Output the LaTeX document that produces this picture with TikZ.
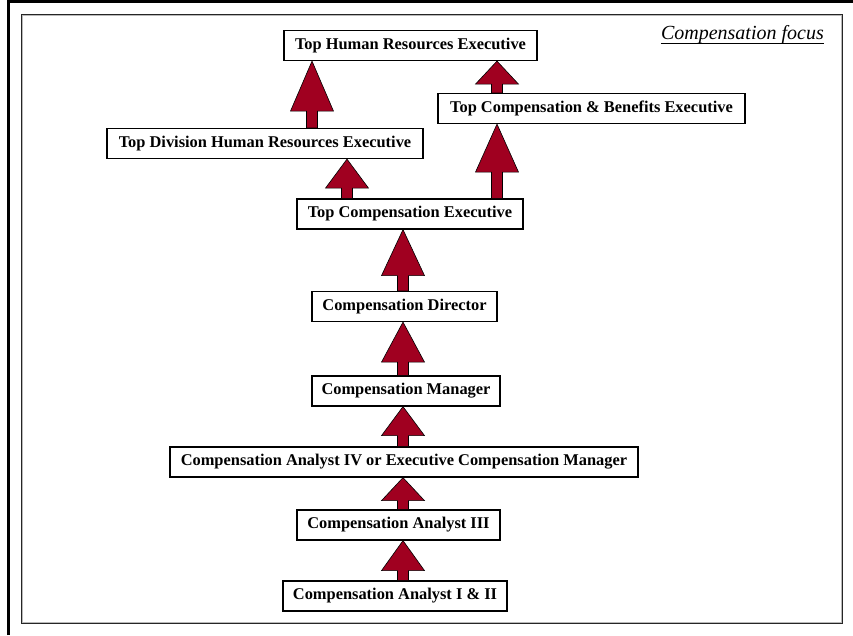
\documentclass[tikz,border=0pt]{standalone}
\usepackage{fontspec}
\setmainfont{Liberation Serif}
\usetikzlibrary{calc}
\definecolor{arrowred}{RGB}{160,0,32}
\newcommand{\blockup}[4]{%
  \path[blockarrow] let \p1=(#2.north), \p2=(#3.south) in
    (#1pt-5.5pt,\y1) -- (#1pt-5.5pt,\y2-#4pt) -- (#1pt-21.5pt,\y2-#4pt) -- (#1pt,\y2)
    -- (#1pt+21.5pt,\y2-#4pt) -- (#1pt+5.5pt,\y2-#4pt) -- (#1pt+5.5pt,\y1) -- cycle;}
\begin{document}
\begin{tikzpicture}[x=1pt,y=-1pt,
  box/.style={draw=black, line width=1.2pt, fill=white,
    font=\fontsize{16.4}{18}\selectfont\bfseries,
    inner xsep=3pt, inner ysep=0pt, minimum height=30pt},
  blockarrow/.style={fill=arrowred, draw=black, line width=0.6pt}]
\useasboundingbox (0,0) rectangle (853,635);
% frames
\draw[line width=3pt] (8.5,635) -- (8.5,1.5) -- (853,1.5);
\draw[line width=1pt, black!85] (21.5,14.5) rectangle (842.5,623.5);
\draw[line width=0.8pt, gray!55] (22.8,15.8) rectangle (841.2,622.2);
% title
\node[anchor=base east, inner sep=0pt, font=\fontsize{20}{22}\selectfont\itshape] (focus) at (824,39.5) {Compensation focus};
\draw[line width=0.9pt] ([yshift=-4pt]focus.base west) -- ([yshift=-4pt]focus.base east);
% nodes
\node[box, minimum width=253pt] (n1) at (410.5,45.5) {Top Human Resources Executive};
\node[box, minimum width=316pt] (n2) at (265,143.5) {Top Division Human Resources Executive};
\node[box, minimum width=307pt] (n3) at (591.5,108.5) {Top Compensation \& Benefits Executive};
\node[box, minimum width=226pt] (n4) at (410,214) {Top Compensation Executive};
\node[box, minimum width=185pt] (n5) at (404.5,306.5) {Compensation Director};
\node[box, minimum width=188pt] (n6) at (406,391) {Compensation Manager};
\node[box, minimum width=468pt] (n7) at (404,462) {Compensation Analyst IV or Executive Compensation Manager};
\node[box, minimum width=203pt] (n8) at (398.5,525) {Compensation Analyst III};
\node[box, minimum width=224pt] (n9) at (395,596) {Compensation Analyst I \& II};
% arrows
\blockup{312}{n2}{n1}{50}
\blockup{347}{n4}{n2}{29}
\blockup{497}{n3}{n1}{23}
\blockup{497}{n4}{n3}{48}
\blockup{403}{n5}{n4}{46}
\blockup{403}{n6}{n5}{40}
\blockup{403}{n7}{n6}{29}
\blockup{403}{n8}{n7}{23}
\blockup{403}{n9}{n8}{30}
\end{tikzpicture}
\end{document}
